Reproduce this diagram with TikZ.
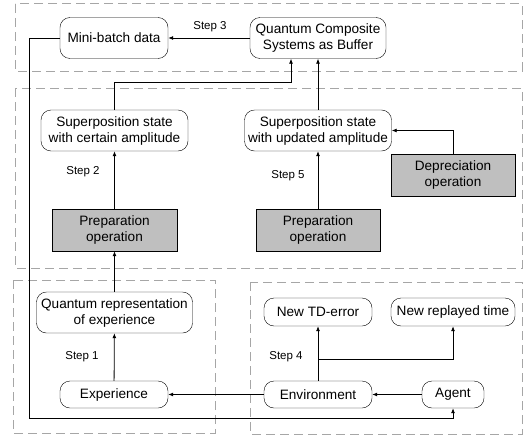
\documentclass[tikz,border=0pt]{standalone}
\usepackage{fontspec}
\setmainfont{Liberation Sans}
\usetikzlibrary{arrows.meta}

\begin{document}
\begin{tikzpicture}[x=1pt,y=-1pt,
  >={Latex[length=5pt,width=4pt]},
  rbox/.style={draw, rounded corners=10pt, align=center, inner sep=1pt, font=\fontsize{13.6}{16}\selectfont},
  gbox/.style={draw, fill=gray!50, align=center, inner sep=1pt, font=\fontsize{13.6}{16}\selectfont},
  region/.style={draw=gray!70, dash pattern=on 9pt off 5pt, line width=1pt},
  steplab/.style={font=\fontsize{11.5}{13}\selectfont},
  link/.style={draw, line width=0.8pt, ->}]
\useasboundingbox (0,0) rectangle (529,436);
\path[region] (15,4) rectangle (522,71);
\path[region] (15,88) rectangle (522,268);
\path[region] (13,280) rectangle (215,433);
\path[region] (250,282) rectangle (522,434);
\node[rbox, minimum width=108pt, minimum height=41pt] (mb) at (114,38) {Mini-batch data};
\node[rbox, minimum width=136pt, minimum height=41pt] (buf) at (318,38) {Quantum Composite\\Systems as Buffer};
\node[rbox, minimum width=147pt, minimum height=41pt] (supc) at (114.5,130.5) {Superposition state\\with certain amplitude};
\node[rbox, minimum width=147pt, minimum height=41pt] (supu) at (318,130.5) {Superposition state\\with updated amplitude};
\node[gbox, minimum width=125pt, minimum height=42pt] (prepl) at (114.5,230) {Preparation\\operation};
\node[gbox, minimum width=124pt, minimum height=42pt] (prepr) at (318,230) {Preparation\\operation};
\node[gbox, minimum width=124pt, minimum height=42pt] (depr) at (453,175) {Depreciation\\operation};
\node[rbox, minimum width=156pt, minimum height=41pt] (qrep) at (114.5,312.5) {Quantum representation\\of experience};
\node[rbox, minimum width=108pt, minimum height=27pt] (exp) at (114,394.5) {Experience};
\node[rbox, minimum width=108pt, minimum height=28pt] (tde) at (318,312) {New TD-error};
\node[rbox, minimum width=124pt, minimum height=28pt] (rpt) at (453,312) {New replayed time};
\node[rbox, minimum width=108pt, minimum height=27pt] (env) at (318,394.5) {Environment};
\node[rbox, minimum width=62pt, minimum height=27pt] (agt) at (453,394.5) {Agent};
\node[steplab] (s3) at (210,27) {Step 3};
\node[steplab] (s2) at (83,172) {Step 2};
\node[steplab] (s5) at (288,176) {Step 5};
\node[steplab] (s1) at (82,357) {Step 1};
\node[steplab] (s4) at (286,357) {Step 4};
\path[link] (buf) -- (mb);
\path[link] (supc.north) -- ++(0,-27) -| ([xshift=-27pt]buf.south);
\path[link] (supu) -- (buf);
\path[link] (prepl) -- (supc);
\path[link] (prepr) -- (supu);
\path[link] (depr.north) |- (supu.east);
\path[link] (qrep) -- (prepl);
\path[link] (exp) -- (qrep);
\path[link] (env) -- (exp);
\path[link] (agt) -- (env);
\path[link] (env) -- (tde);
\path[link] ([yshift=21pt]env.north) -| (rpt.south);
\path[link] (mb.west) -- ++(-30,0) |- ([yshift=-10pt]agt.south) -- (agt.south);
\end{tikzpicture}
\end{document}
